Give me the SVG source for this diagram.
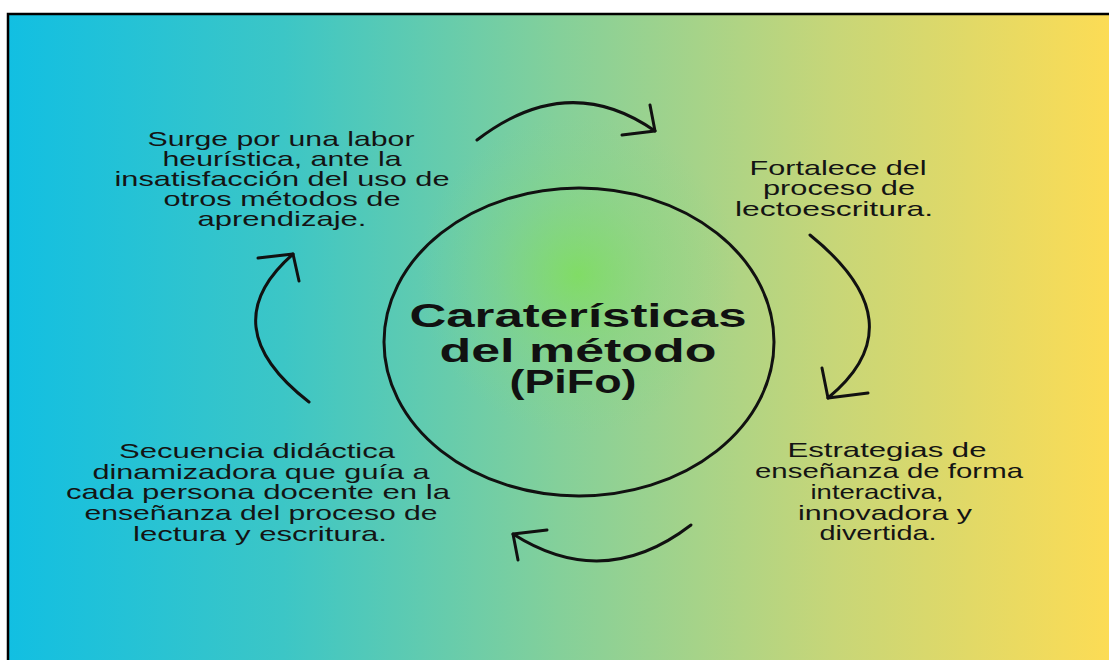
<svg xmlns="http://www.w3.org/2000/svg" width="1109" height="660" viewBox="0 0 1109 660">
<defs>
<linearGradient id="bg" x1="0" y1="0" x2="1" y2="0">
<stop offset="0" stop-color="#12bfe2"/>
<stop offset="0.25" stop-color="#3cc6c6"/>
<stop offset="0.5" stop-color="#84d09a"/>
<stop offset="0.75" stop-color="#c7d678"/>
<stop offset="1" stop-color="#fcdc55"/>
</linearGradient>
<radialGradient id="glow" cx="578" cy="275" r="160" gradientUnits="userSpaceOnUse">
<stop offset="0" stop-color="#7ee055" stop-opacity="0.75"/>
<stop offset="0.5" stop-color="#86d970" stop-opacity="0.3"/>
<stop offset="1" stop-color="#86d48a" stop-opacity="0"/>
</radialGradient>
<style>
.t{font-family:"Liberation Sans","DejaVu Sans",sans-serif;font-size:21px;fill:#141414;text-anchor:middle}
.title{font-family:"Liberation Sans","DejaVu Sans",sans-serif;font-size:34px;font-weight:bold;fill:#111;text-anchor:middle}
.c{fill:none;stroke:#111;stroke-width:3;stroke-linecap:round;stroke-linejoin:round}
</style>
</defs>
<rect x="0" y="0" width="1109" height="660" fill="#fff"/>
<rect x="8" y="14" width="1101" height="646" fill="url(#bg)"/>
<rect x="0" y="0" width="1109" height="660" fill="url(#glow)"/>
<path d="M8,660 V14 H1109" fill="none" stroke="#000" stroke-width="2.5"/>

<g id="center">
<ellipse cx="579" cy="342" rx="195" ry="154" fill="none" stroke="#111" stroke-width="3"/>
<text class="title" x="578" y="327" textLength="337" lengthAdjust="spacingAndGlyphs">Caraterísticas</text>
<text class="title" x="578" y="362" textLength="277" lengthAdjust="spacingAndGlyphs">del método</text>
<text class="title" x="573" y="393" textLength="127" lengthAdjust="spacingAndGlyphs">(PiFo)</text>
</g>

<g id="node-top-left">
<text class="t" x="281" y="146" textLength="267" lengthAdjust="spacingAndGlyphs">Surge por una labor</text>
<text class="t" x="282" y="166" textLength="239" lengthAdjust="spacingAndGlyphs">heurística, ante la</text>
<text class="t" x="282" y="186" textLength="335" lengthAdjust="spacingAndGlyphs">insatisfacción del uso de</text>
<text class="t" x="282" y="206" textLength="237" lengthAdjust="spacingAndGlyphs">otros métodos de</text>
<text class="t" x="282" y="226" textLength="169" lengthAdjust="spacingAndGlyphs">aprendizaje.</text>
</g>

<g id="node-top-right">
<text class="t" x="838" y="175" textLength="177" lengthAdjust="spacingAndGlyphs">Fortalece del</text>
<text class="t" x="839" y="195" textLength="152" lengthAdjust="spacingAndGlyphs">proceso de</text>
<text class="t" x="834" y="216" textLength="198" lengthAdjust="spacingAndGlyphs">lectoescritura.</text>
</g>

<g id="node-bottom-right">
<text class="t" x="887" y="457" textLength="199" lengthAdjust="spacingAndGlyphs">Estrategias de</text>
<text class="t" x="889" y="478" textLength="268" lengthAdjust="spacingAndGlyphs">enseñanza de forma</text>
<text class="t" x="877" y="499" textLength="133" lengthAdjust="spacingAndGlyphs">interactiva,</text>
<text class="t" x="885" y="520" textLength="174" lengthAdjust="spacingAndGlyphs">innovadora y</text>
<text class="t" x="878" y="540" textLength="117" lengthAdjust="spacingAndGlyphs">divertida.</text>
</g>

<g id="node-bottom-left">
<text class="t" x="257" y="458" textLength="276" lengthAdjust="spacingAndGlyphs">Secuencia didáctica</text>
<text class="t" x="261" y="479" textLength="337" lengthAdjust="spacingAndGlyphs">dinamizadora que guía a</text>
<text class="t" x="258" y="499" textLength="384" lengthAdjust="spacingAndGlyphs">cada persona docente en la</text>
<text class="t" x="261" y="520" textLength="353" lengthAdjust="spacingAndGlyphs">enseñanza del proceso de</text>
<text class="t" x="260" y="541" textLength="254" lengthAdjust="spacingAndGlyphs">lectura y escritura.</text>
</g>

<g id="connectors">
<path class="c" d="M477,140 Q568,70 655,131"/>
<path class="c" d="M650,105 L655,131 L622,135"/>
<path class="c" d="M810,235 Q919,323 828,398"/>
<path class="c" d="M822,368 L828,398 L868,393"/>
<path class="c" d="M691,525 Q604,592 513,534"/>
<path class="c" d="M547,530 L513,534 L518,560"/>
<path class="c" d="M309,402 Q211,326 293,254"/>
<path class="c" d="M258,258 L293,254 L299,281"/>
</g>
</svg>
